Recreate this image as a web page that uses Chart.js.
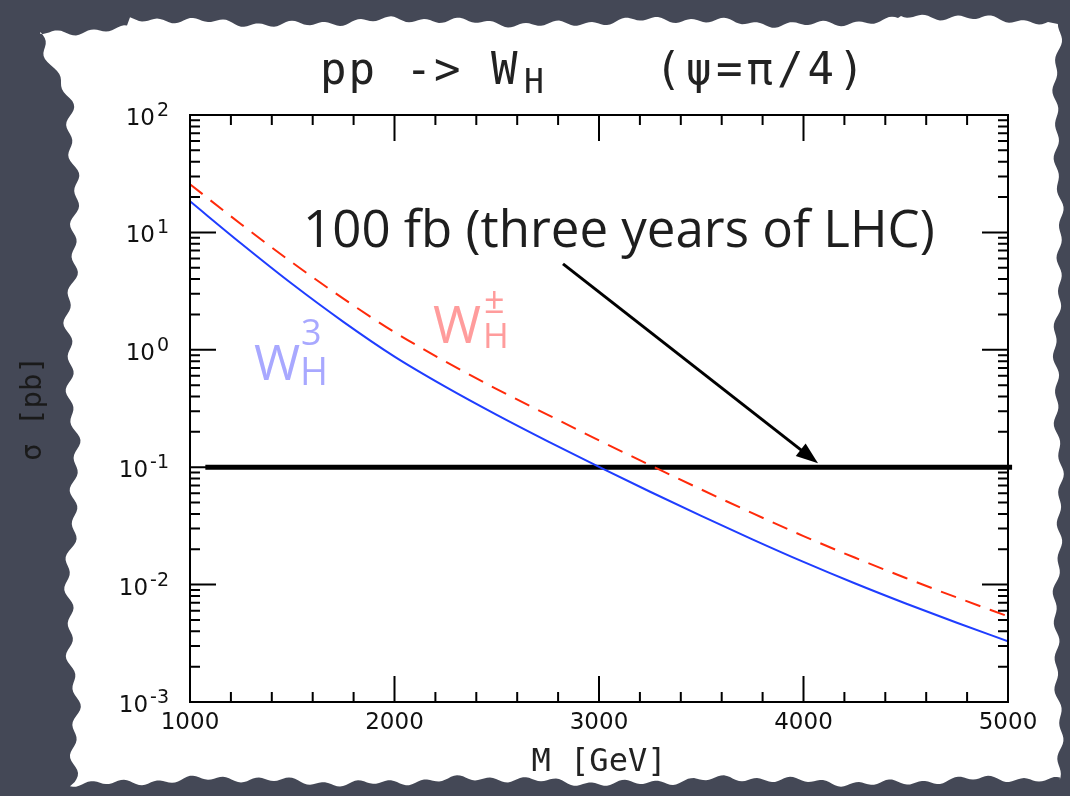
<!DOCTYPE html>
<html>
<head>
<meta charset="utf-8">
<script src="https://cdn.jsdelivr.net/npm/chart.js@4.4.1/dist/chart.umd.min.js"></script>
<style>
  html, body { margin: 0; padding: 0; background: #444856; }
  #wrap { width: 1070px; height: 796px; }
</style>
</head>
<body>
<div id="wrap"><canvas id="chart" width="1070" height="796"></canvas></div>
<script>
// cross sections (pb)
const massGeV = [1000, 1250, 1500, 1750, 2000, 2250, 2500, 2750, 3000,
                 3250, 3500, 3750, 4000, 4250, 4500, 4750, 5000];
const sigmaW3 = [18.4, 8.04, 3.63, 1.73, 0.875, 0.483, 0.279, 0.166, 0.1007,
                 0.0618, 0.0385, 0.0243, 0.0156, 0.01026, 0.00690, 0.00473, 0.00329];
const sigmaWpm = [25.7, 11.75, 5.53, 2.73, 1.413, 0.793, 0.463, 0.279, 0.1694,
                  0.1040, 0.0646, 0.0406, 0.0259, 0.0170, 0.01138, 0.00776, 0.00537];

// 100 fb^-1 reach line and the arrow pointing at it
const reachX = [1075, 5020];
const reachY = [0.1, 0.1];
const arrowX = [2824, 4071];
const arrowY = [5.4, 0.108];

const xTickValues = [1000, 2000, 3000, 4000, 5000];
const yDecades = [-3, -2, -1, 0, 1, 2];

function toPoints(xs, ys) {
  return xs.map((x, i) => ({ x: x, y: ys[i] }));
}

function rough(t) {
  return 2.2 * Math.sin(t / 5.3) + 1.6 * Math.sin(t / 13.7 + 2) + 2.5 * Math.sin(t / 41 + 1);
}

// torn sheet of paper behind the plot
const paperPlugin = {
  id: "paper",
  beforeDraw(chart) {
    const ctx = chart.ctx;
    ctx.save();
    ctx.fillStyle = "#444856";
    ctx.fillRect(0, 0, chart.width, chart.height);
    ctx.beginPath();
    for (let x = 40; x <= 1050; x += 3) {
      const y = 22 + rough(x) + (x < 130 ? 9 : 0) + (x > 900 ? -3 : 0);
      x === 40 ? ctx.moveTo(x, y) : ctx.lineTo(x, y);
    }
    for (let y = 24; y <= 782; y += 3) {
      ctx.lineTo(1058 + rough(y + 300), y);
    }
    for (let x = 1060; x >= 70; x -= 3) {
      ctx.lineTo(x, 781 + rough(x + 700));
    }
    for (let y = 782; y >= 30; y -= 3) {
      let x = 72 + 1.5 * rough(y + 1100);
      if (y < 100) x -= (100 - y) * 0.45;
      ctx.lineTo(x, y);
    }
    ctx.closePath();
    ctx.fillStyle = "#ffffff";
    ctx.fill();
    ctx.restore();
  },
};

// frame, inward ticks, tick labels, title and annotations
const decorPlugin = {
  id: "decor",
  afterDatasetsDraw(chart) {
    const ctx = chart.ctx;
    const xs = chart.scales.x;
    const ys = chart.scales.y;
    const a = chart.chartArea;
    ctx.save();

    ctx.strokeStyle = "#000";
    ctx.lineWidth = 2;
    ctx.strokeRect(a.left, a.top, a.right - a.left, a.bottom - a.top);

    ctx.beginPath();
    for (let m = 1000; m <= 5000; m += 200) {
      const px = xs.getPixelForValue(m);
      const len = m % 1000 === 0 ? 26 : 10;
      ctx.moveTo(px, a.bottom); ctx.lineTo(px, a.bottom - len);
      ctx.moveTo(px, a.top); ctx.lineTo(px, a.top + len);
    }
    yDecades.forEach((d) => {
      for (let k = 1; k <= 9; k++) {
        if (d === 2 && k > 1) break;
        const py = ys.getPixelForValue(k * Math.pow(10, d));
        const len = k === 1 ? 26 : 10;
        ctx.moveTo(a.left, py); ctx.lineTo(a.left + len, py);
        ctx.moveTo(a.right, py); ctx.lineTo(a.right - len, py);
      }
    });
    ctx.stroke();

    // y tick labels as 10 with raised exponent
    ctx.fillStyle = "#111";
    ctx.textAlign = "right";
    ctx.textBaseline = "alphabetic";
    yDecades.forEach((d) => {
      const py = ys.getPixelForValue(Math.pow(10, d));
      const exp = String(d);
      ctx.font = '19px "DejaVu Sans"';
      const ew = ctx.measureText(exp).width;
      ctx.fillText(exp, 169, py + 1);
      ctx.font = '23px "DejaVu Sans"';
      ctx.fillText("10", 169 - ew - 2, py + 10);
    });

    // arrow
    const x0 = xs.getPixelForValue(arrowX[0]), y0 = ys.getPixelForValue(arrowY[0]);
    const x1 = xs.getPixelForValue(arrowX[1]), y1 = ys.getPixelForValue(arrowY[1]);
    const ang = Math.atan2(y1 - y0, x1 - x0);
    ctx.lineWidth = 3;
    ctx.beginPath();
    ctx.moveTo(x0, y0);
    ctx.lineTo(x1 - 14 * Math.cos(ang), y1 - 14 * Math.sin(ang));
    ctx.stroke();
    ctx.beginPath();
    ctx.moveTo(x1, y1);
    ctx.lineTo(x1 - 22 * Math.cos(ang) + 8 * Math.sin(ang), y1 - 22 * Math.sin(ang) - 8 * Math.cos(ang));
    ctx.lineTo(x1 - 22 * Math.cos(ang) - 8 * Math.sin(ang), y1 - 22 * Math.sin(ang) + 8 * Math.cos(ang));
    ctx.closePath();
    ctx.fillStyle = "#000";
    ctx.fill();

    // annotation text
    ctx.fillStyle = "#1e1e1e";
    ctx.textBaseline = "middle";
    ctx.textAlign = "left";
    ctx.font = '51px "Open Sans"';
    ctx.fillText("100 fb (three years of LHC)", xs.getPixelForValue(1553), ys.getPixelForValue(10));

    // curve labels
    ctx.textBaseline = "alphabetic";
    ctx.fillStyle = "#a8a8ff";
    ctx.font = '50px "Open Sans"';
    ctx.fillText("W", 254, 380);
    ctx.font = '36px "Open Sans"';
    ctx.fillText("3", 301, 345);
    ctx.font = '38px "Open Sans"';
    ctx.fillText("H", 300, 385);

    ctx.fillStyle = "#ff9c9c";
    ctx.font = '52px "Open Sans"';
    ctx.fillText("W", 433, 343);
    ctx.font = '36px "Open Sans"';
    ctx.fillText("\u00B1", 484, 313);
    ctx.font = '35px "Open Sans"';
    ctx.fillText("H", 483, 348);

    // title
    ctx.fillStyle = "#222";
    ctx.letterSpacing = "2px";
    ctx.font = '44px "DejaVu Sans Mono"';
    ctx.fillText("pp -> W", 320, 84);
    ctx.font = '33px "DejaVu Sans Mono"';
    ctx.fillText("H", 524, 93);
    ctx.letterSpacing = "4px";
    ctx.font = '44px "DejaVu Sans Mono"';
    ctx.fillText("(\u03C8=\u03C0/4)", 655, 84);

    ctx.restore();
  },
};

new Chart(document.getElementById("chart"), {
  type: "line",
  data: {
    datasets: [
      {
        label: "W_H^3",
        data: toPoints(massGeV, sigmaW3),
        borderColor: "#1f3dff",
        borderWidth: 2,
        pointRadius: 0,
        cubicInterpolationMode: "monotone",
      },
      {
        label: "W_H^\u00B1",
        data: toPoints(massGeV, sigmaWpm),
        borderColor: "#ff2a0a",
        borderWidth: 2,
        borderDash: [16, 10],
        pointRadius: 0,
        cubicInterpolationMode: "monotone",
      },
      {
        label: "100 fb",
        data: toPoints(reachX, reachY),
        borderColor: "#000",
        borderWidth: 5,
        pointRadius: 0,
        clip: false,
      },
    ],
  },
  options: {
    responsive: false,
    animation: false,
    devicePixelRatio: 1,
    layout: { padding: { left: 0, right: 62, top: 115, bottom: 0 } },
    plugins: { legend: { display: false }, tooltip: { enabled: false } },
    scales: {
      x: {
        type: "linear",
        min: 1000,
        max: 5000,
        grid: { display: false, drawTicks: false },
        border: { display: false },
        afterBuildTicks: (scale) => {
          scale.ticks = xTickValues.map((v) => ({ value: v }));
        },
        afterFit: (scale) => { scale.height = 94; },
        ticks: {
          autoSkip: false,
          maxRotation: 0,
          padding: 7,
          color: "#111",
          font: { family: "DejaVu Sans", size: 23 },
          callback: (v) => String(v),
        },
        title: {
          display: true,
          text: "M [GeV]",
          color: "#222",
          font: { family: "DejaVu Sans Mono", size: 32 },
          padding: { top: 0, bottom: 14 },
        },
      },
      y: {
        type: "logarithmic",
        min: 0.001,
        max: 100,
        grid: { display: false, drawTicks: false },
        border: { display: false },
        afterBuildTicks: (scale) => {
          scale.ticks = yDecades.map((d) => ({ value: Math.pow(10, d) }));
        },
        afterFit: (scale) => { scale.width = 190; },
        ticks: { display: false },
        title: {
          display: true,
          text: "\u03C3 [pb]",
          color: "#1a1a1a",
          font: { family: "DejaVu Sans Mono", size: 29 },
          padding: { top: 16, bottom: 0 },
        },
      },
    },
  },
  plugins: [paperPlugin, decorPlugin],
});
</script>
</body>
</html>
